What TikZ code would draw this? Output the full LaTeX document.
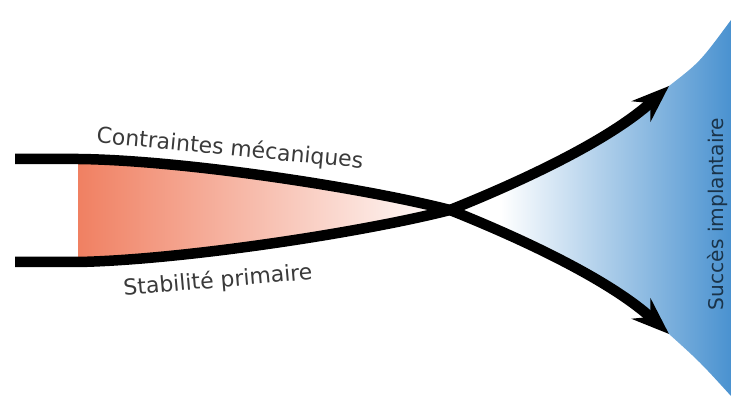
\documentclass[tikz,border=0pt]{standalone}
\usepackage{fontspec}
\setmainfont{DejaVu Sans}
\usetikzlibrary{arrows.meta}
\definecolor{saumon}{RGB}{240,128,98}
\definecolor{bleuimpl}{RGB}{74,146,208}
\definecolor{texte}{RGB}{58,58,58}
\pgfdeclarehorizontalshading{bleufan}{100bp}{color(0bp)=(white); color(34bp)=(white); color(75bp)=(bleuimpl); color(100bp)=(bleuimpl)}
\tikzset{
  fleche/.style={line width=0.21cm, black, -{Stealth[length=0.75cm, width=0.55cm]}},
  etiquette/.style={texte, font=\fontsize{12.5}{14}\selectfont}
}
\begin{document}
\begin{tikzpicture}[x=0.02cm, y=-0.02cm]
    \useasboundingbox (0,0) rectangle (731,408);
    \coordinate (hautg) at (15,159);
    \coordinate (basg) at (15,262);
    \coordinate (croix) at (450,210);
    \coordinate (pointeh) at (669,86);
    \coordinate (pointeb) at (669,334);
    % zone rouge et zone bleue
    \shade[left color=saumon, right color=white] (78,159) .. controls (180,160) and (360,187) .. (croix) .. controls (360,233) and (180,260) .. (78,262) -- cycle;
    \shade[shading=bleufan] (731,20) .. controls (700,62) .. (pointeh) .. controls (610,140) and (530,178) .. (croix) .. controls (530,242) and (610,280) .. (pointeb) .. controls (700,362) .. (731,396) -- cycle;
    % les deux fleches
    \draw[fleche] (hautg) -- (78,159) .. controls (180,160) and (360,187) .. (croix) .. controls (530,242) and (612,282) .. (pointeb);
    \draw[fleche] (basg) -- (78,262) .. controls (180,260) and (360,233) .. (croix) .. controls (530,178) and (612,138) .. (pointeh);
    \node[etiquette, rotate=-5.5] (contraintes) at (230,149) {Contraintes mécaniques};
    \node[etiquette, rotate=5] (stabilite) at (218,281) {Stabilité primaire};
    \node[etiquette, rotate=90, font=\fontsize{11.5}{13}\selectfont, bleuimpl!35!black] (succes) at (718,214) {Succès implantaire};
\end{tikzpicture}
\end{document}
